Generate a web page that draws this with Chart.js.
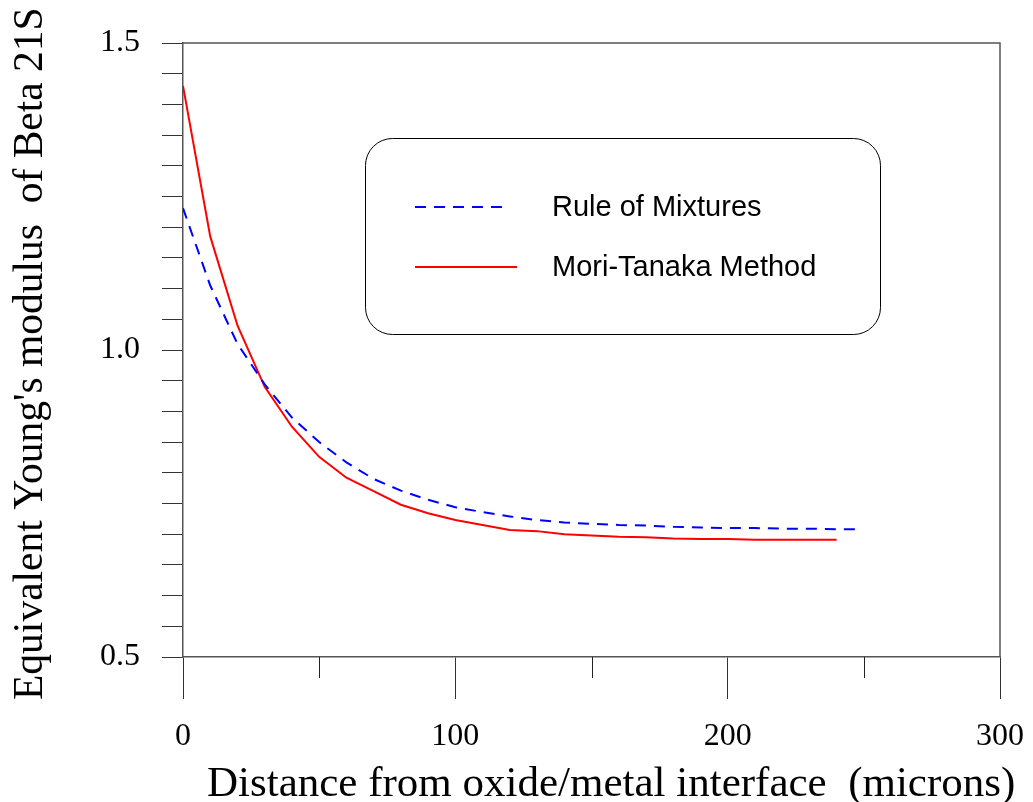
<!DOCTYPE html>
<html>
<head>
<meta charset="utf-8">
<script src="https://cdn.jsdelivr.net/npm/chart.js@4"></script>
<style>
  html, body { margin: 0; padding: 0; background: #fff; }
  #wrap { width: 1033px; height: 802px; }
</style>
</head>
<body>
<div id="wrap"><canvas id="youngChart" width="1033" height="802"></canvas></div>
<script>
// values
let distanceMT = [0, 10, 20, 30, 40, 50, 60, 70, 80, 90, 100, 110, 120, 130, 140, 150, 160, 170, 180, 190, 200, 210, 220, 230, 240]
let moriTanaka = [1.43, 1.185, 1.04, 0.94, 0.875, 0.826, 0.792, 0.77, 0.748, 0.734, 0.723, 0.715, 0.707, 0.705, 0.7, 0.698, 0.696, 0.695, 0.693, 0.692, 0.692, 0.691, 0.691, 0.691, 0.691]
let distanceROM = [0, 10, 20, 30, 40, 50, 60, 70, 80, 90, 100, 110, 120, 130, 140, 150, 160, 170, 180, 190, 200, 210, 220, 230, 240, 248]
let ruleOfMixtures = [1.231, 1.105, 1.01, 0.944, 0.89, 0.85, 0.817, 0.79, 0.771, 0.756, 0.744, 0.736, 0.729, 0.723, 0.719, 0.717, 0.715, 0.714, 0.712, 0.711, 0.71, 0.71, 0.709, 0.709, 0.708, 0.708]
let xTicks = [0, 50, 100, 150, 200, 250, 300]
let xMajor = [0, 100, 200, 300]
let yLabelled = [0.5, 1.0, 1.5]

let xTitle = 'Distance from oxide/metal interface  (microns)'
let yTitle = "Equivalent Young's modulus  of Beta 21S"

function toPoints(xs, ys) {
  let pts = []
  for (let i = 0; i < xs.length; i++) {
    pts.push({ x: xs[i], y: ys[i] })
  }
  return pts
}

function isMajor(v) {
  return xMajor.some((m) => Math.abs(m - v) < 1e-6)
}

// frame, short x ticks, axis titles and the rounded legend box
let extras = {
  id: 'extras',
  afterDraw(chart) {
    let ctx = chart.ctx
    let area = chart.chartArea
    let xs = chart.scales.x

    ctx.save()
    ctx.strokeStyle = '#555'
    ctx.lineWidth = 1.5
    ctx.beginPath()
    ctx.moveTo(area.left, area.top)
    ctx.lineTo(area.right, area.top)
    ctx.lineTo(area.right, area.bottom)
    ctx.stroke()

    ctx.strokeStyle = '#222'
    ctx.lineWidth = 1
    xTicks.forEach((v) => {
      if (isMajor(v)) return
      let px = Math.round(xs.getPixelForValue(v)) + 0.5
      ctx.beginPath()
      ctx.moveTo(px, area.bottom)
      ctx.lineTo(px, area.bottom + 21)
      ctx.stroke()
    })

    // axis titles
    ctx.fillStyle = '#000'
    ctx.font = '43px "Liberation Serif", "Times New Roman", serif'
    ctx.textAlign = 'left'
    ctx.textBaseline = 'alphabetic'
    ctx.fillText(xTitle, 207, 796)

    ctx.font = '41.5px "Liberation Serif", "Times New Roman", serif'
    ctx.save()
    ctx.translate(42, 700)
    ctx.rotate(-Math.PI / 2)
    ctx.fillText(yTitle, 0, 0)
    ctx.restore()

    // legend
    let bx = 365, by = 138, bw = 515, bh = 196, r = 27
    ctx.strokeStyle = '#000'
    ctx.lineWidth = 1
    ctx.beginPath()
    ctx.roundRect(bx + 0.5, by + 0.5, bw, bh, r)
    ctx.stroke()

    let rows = [207, 267]
    let lens = [92, 102]
    ctx.font = '29px "Liberation Sans", Arial, sans-serif'
    ctx.textBaseline = 'middle'
    chart.data.datasets.forEach((ds, i) => {
      ctx.strokeStyle = ds.borderColor
      ctx.lineWidth = 2
      ctx.setLineDash(ds.borderDash || [])
      ctx.beginPath()
      ctx.moveTo(415, rows[i])
      ctx.lineTo(415 + lens[i], rows[i])
      ctx.stroke()
      ctx.setLineDash([])
      ctx.fillStyle = '#000'
      ctx.fillText(ds.label, 552, rows[i] + 1)
    })
    ctx.restore()
  },
}

new Chart(document.getElementById('youngChart'), {
  type: 'line',
  data: {
    datasets: [
      {
        label: 'Rule of Mixtures',
        data: toPoints(distanceROM, ruleOfMixtures),
        borderColor: '#0000ff',
        borderWidth: 2,
        borderDash: [11, 8],
        pointRadius: 0,
        tension: 0,
        fill: false,
      },
      {
        label: 'Mori-Tanaka Method',
        data: toPoints(distanceMT, moriTanaka),
        borderColor: '#ff0000',
        borderWidth: 2,
        pointRadius: 0,
        tension: 0,
        fill: false,
      },
    ],
  },
  options: {
    responsive: false,
    animation: false,
    events: [],
    layout: { padding: { top: 43, right: 33, left: 0, bottom: 0 } },
    plugins: {
      legend: { display: false },
      tooltip: { enabled: false },
    },
    scales: {
      x: {
        type: 'linear',
        min: 0,
        max: 300,
        afterFit(scale) {
          scale.height = 145
          scale.paddingLeft = 0
          scale.paddingRight = 0
        },
        afterBuildTicks(scale) {
          scale.ticks = xTicks.map((v) => ({ value: v }))
        },
        grid: {
          drawOnChartArea: false,
          drawTicks: true,
          tickLength: 42,
          tickColor: (c) => (isMajor(c.tick.value) ? '#333' : 'rgba(0,0,0,0)'),
        },
        border: { display: true, color: '#555', width: 1.5 },
        ticks: {
          autoSkip: false,
          maxRotation: 0,
          padding: 18,
          color: '#000',
          font: { family: '"Liberation Serif", "Times New Roman", serif', size: 32 },
          callback: (v) => (isMajor(v) ? String(v) : ''),
        },
      },
      y: {
        type: 'linear',
        min: 0.5,
        max: 1.5,
        afterFit(scale) {
          scale.width = 183
          scale.paddingTop = 0
          scale.paddingBottom = 0
        },
        grid: {
          drawOnChartArea: false,
          drawTicks: true,
          tickLength: 21,
          tickColor: '#333',
        },
        border: { display: true, color: '#555', width: 1.5 },
        ticks: {
          stepSize: 0.05,
          autoSkip: false,
          padding: 22,
          color: '#000',
          font: { family: '"Liberation Serif", "Times New Roman", serif', size: 32 },
          callback: (v) => (yLabelled.some((m) => Math.abs(m - v) < 1e-6) ? Number(v).toFixed(1) : ''),
        },
      },
    },
  },
  plugins: [extras],
})
</script>
</body>
</html>
